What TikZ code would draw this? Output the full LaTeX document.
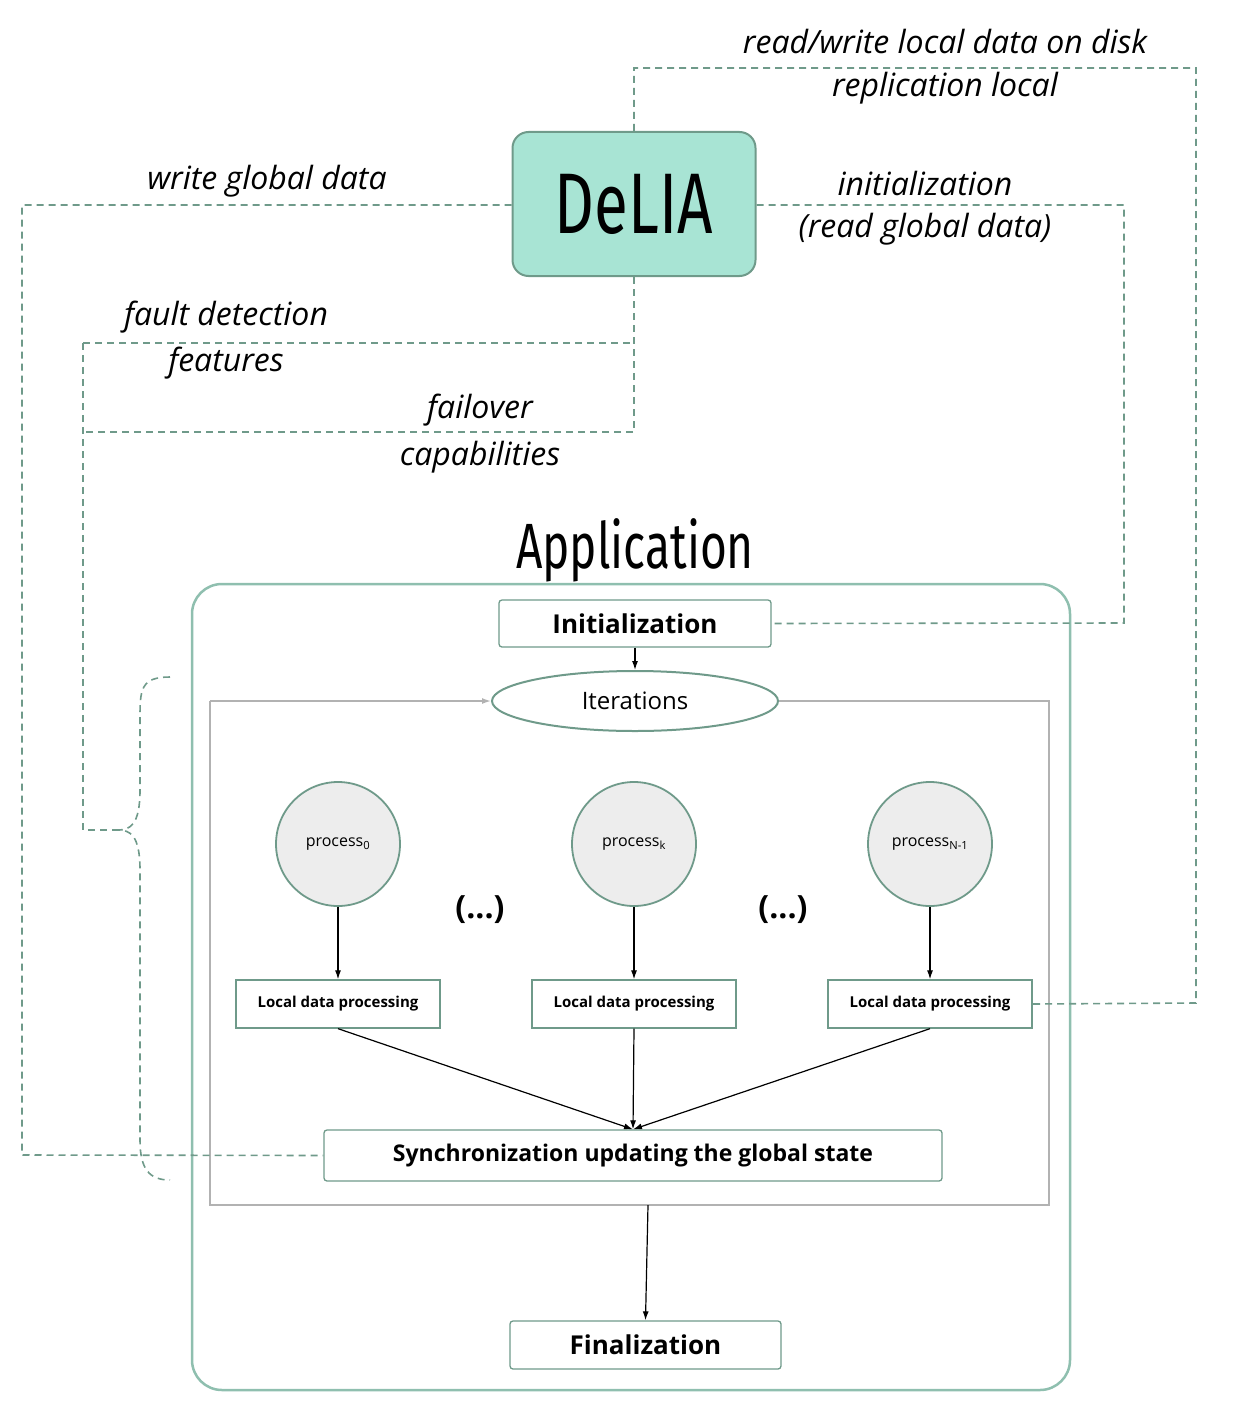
\documentclass[tikz,border=0pt]{standalone}
\usepackage{fontspec}
\setmainfont{Open Sans}
\newfontfamily\condf{Fira Sans}
\usetikzlibrary{arrows.meta,decorations.pathreplacing,shapes.geometric}
\definecolor{dg}{HTML}{6F9A8A}
\definecolor{lg}{HTML}{8FBFAF}
\definecolor{mint}{HTML}{A8E4D4}
\begin{document}
\begin{tikzpicture}[x=1pt,y=-1pt,
  dln/.style={draw=dg,line width=1.6pt,dash pattern=on 7pt off 5pt},
  lbl/.style={font=\fontsize{32}{36}\selectfont\itshape,inner sep=0},
  bx/.style={draw=dg,line width=1.3pt,rounded corners=3pt,font=\bfseries\fontsize{26}{30}\selectfont},
  lbox/.style={draw=dg,line width=1.3pt,font=\bfseries\fontsize{15}{18}\selectfont,minimum width=204pt,minimum height=48pt},
  proc/.style={circle,draw=dg,line width=1.8pt,fill=black!7,minimum size=124pt,font=\fontsize{16}{18}\selectfont},
  arr/.style={-{Latex[length=9pt,width=6pt]},line width=1.2pt}]
\useasboundingbox (0,0) rectangle (1236,1407);
% DeLIA
\node[draw=dg,fill=mint,line width=2pt,rounded corners=16pt,minimum width=243pt,minimum height=144pt] (delia) at (634,204) {\condf\fontsize{86}{90}\selectfont\scalebox{0.72}[1]{DeLIA}};
\node[font=\condf\fontsize{64}{70}\selectfont] (app) at (635,550) {\scalebox{0.72}[1]{Application}};
\draw[lg,line width=2.5pt,rounded corners=30pt] (192,584) rectangle (1070,1390);
\node[bx,minimum width=272pt,minimum height=47pt] (init) at (635,623.5) {Initialization};
\node[ellipse,draw=dg,line width=2pt,minimum width=286pt,minimum height=60pt,font=\fontsize{24}{28}\selectfont] (iter) at (635,701) {Iterations};
\draw[black!30,line width=1.5pt] (iter.east) -- (1049,701) -- (1049,1205) -- (210,1205) -- (210,701);
\draw[black!30,line width=1.5pt,-{Latex[length=9pt,width=6pt]}] (210,701) -- (iter.west);
\draw[arr] (init) -- (iter);
\foreach \n/\x/\s in {p0/338/0,pk/634/k,pn/930/N-1}{
  \node[proc] (\n) at (\x,844) {process\textsubscript{\s}};
  \node[lbox] (l\n) at (\x,1004) {Local data processing};
  \draw[arr] (\n) -- (l\n);
}
\node[font=\bfseries\fontsize{32}{36}\selectfont] (d1) at (480,910) {(...)};
\node[font=\bfseries\fontsize{32}{36}\selectfont] (d2) at (783,910) {(...)};
\node[bx,minimum width=618pt,minimum height=51pt,font=\bfseries\fontsize{23}{28}\selectfont] (sync) at (633,1155.5) {Synchronization updating the global state};
\foreach \n in {p0,pk,pn}{\draw[arr] (l\n.south) -- (sync.north);}
\node[bx,minimum width=271pt,minimum height=48pt] (fin) at (645.5,1345) {Finalization};
\coordinate (gb) at (648,1205);
\draw[arr] (gb) -- (fin.north);
% dashed connectors
\coordinate (t1) at (634,68); \coordinate (t2) at (1196,68); \coordinate (t3) at (1196,1003);
\draw[dln] (delia.north) -- (t1) -- (t2) -- (t3) -- (lpn.east);
\coordinate (w1) at (22,205); \coordinate (w2) at (22,1155);
\draw[dln] (delia.west |- 0,205) -- (w1) -- (w2) -- (sync.west);
\coordinate (r1) at (1124,205); \coordinate (r2) at (1124,623);
\draw[dln] (delia.east |- 0,205) -- (r1) -- (r2) -- (init.east);
\coordinate (f1) at (634,432); \coordinate (f2) at (83,432); \coordinate (f3) at (634,343); \coordinate (f4) at (83,343); \coordinate (f5) at (83,830); \coordinate (f6) at (118,830);
\draw[dln] (delia.south) -- (f1) -- (f2);
\draw[dln] (f4) -- (f3);
\draw[dln] (f4) -- (f5) -- (f6);
\draw[dln] (170,677) .. controls (140,677) and (140,690) .. (140,720) -- (140,790) .. controls (140,825) and (130,830) .. (f6) .. controls (130,830) and (140,835) .. (140,870) -- (140,1140) .. controls (140,1170) and (150,1180) .. (170,1180);
% labels
\node[lbl] (a1) at (945,42) {read/write local data on disk};
\node[lbl] (a2) at (945,88) {replication local};
\node[lbl] (a3) at (267,181) {write global data};
\node[lbl] (a4) at (925,184) {initialization};
\node[lbl] (a5) at (925,229) {(read global data)};
\node[lbl] (a6) at (226,317) {fault detection};
\node[lbl] (a7) at (226,363) {features};
\node[lbl] (a8) at (480,410) {failover};
\node[lbl] (a9) at (480,457) {capabilities};
\end{tikzpicture}
\end{document}
